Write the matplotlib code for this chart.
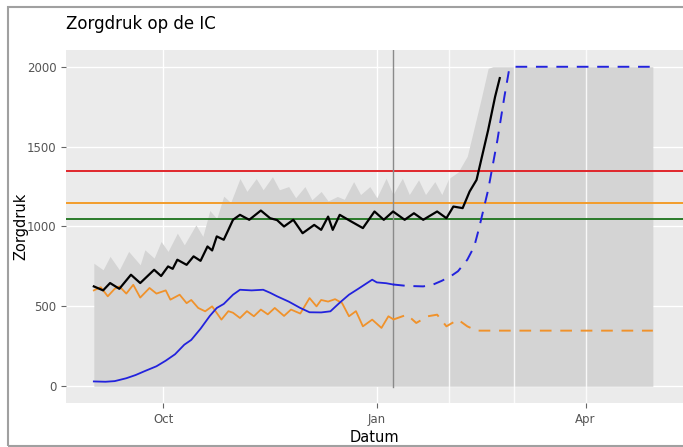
import numpy as np
import matplotlib
matplotlib.use('Agg')
import matplotlib.pyplot as plt
import pandas as pd
from matplotlib.patches import Rectangle

# data (days since 1 Sep 2020)
start = pd.Timestamp('2020-09-01')

# actual (black)
black_days = [0, 4, 7, 11, 16, 20, 26, 29, 32, 34, 36, 40, 43, 46, 49, 51, 53, 56, 58, 60,
              63, 67, 72, 76, 79, 82, 86, 90, 95, 98, 101, 103, 106, 111, 116, 121, 125, 129,
              134, 138, 142, 148, 152, 155, 159, 162, 165, 167, 170, 173, 175]
black_vals = [625, 600, 646, 610, 698, 646, 729, 690, 750, 735, 792, 760, 813, 785, 875, 850, 938, 917, 979, 1042,
              1073, 1042, 1100, 1052, 1040, 1000, 1042, 958, 1010, 979, 1062, 979, 1073, 1031, 990, 1094, 1042, 1094,
              1042, 1083, 1042, 1094, 1052, 1125, 1115, 1219, 1292, 1417, 1604, 1813, 1929]

# blue: observed and forecast
blue_days = [0, 5, 9, 14, 18, 22, 27, 31, 35, 39, 42, 46, 50, 53, 56, 60, 63, 68, 73, 76,
             79, 84, 89, 93, 98, 102, 106, 110, 114, 118, 120, 122, 126, 129]
blue_vals = [30, 28, 32, 50, 70, 95, 125, 160, 200, 260, 290, 360, 440, 490, 515, 573, 604, 600, 604, 585,
             563, 530, 490, 463, 462, 469, 523, 573, 610, 648, 667, 650, 645, 637]
blue_fc_days = [129, 135, 142, 146, 150, 154, 157, 161, 164, 166, 170, 174, 177, 179, 181, 241]
blue_fc_vals = [637, 628, 625, 635, 660, 690, 720, 792, 875, 985, 1229, 1542, 1813, 1979, 2000, 2000]

# orange: observed and forecast
orange_days = [0, 3, 6, 9, 11, 14, 17, 20, 24, 27, 31, 33, 37, 40, 42, 45, 48, 51, 55, 58,
               60, 63, 66, 69, 72, 75, 78, 82, 85, 89, 93, 96, 98, 101, 104, 107, 110, 113, 116, 120,
               124, 127, 129]
orange_vals = [600, 620, 563, 610, 625, 580, 635, 555, 615, 580, 600, 542, 573, 520, 540, 490, 469, 500, 417, 470,
               460, 427, 470, 438, 480, 450, 490, 440, 480, 455, 552, 500, 540, 530, 545, 521, 438, 470, 375, 417,
               365, 438, 420]
orange_fc_days = [129, 135, 139, 144, 148, 152, 157, 161, 165, 241]
orange_fc_vals = [417, 448, 396, 438, 448, 375, 417, 375, 348, 348]

# uncertainty band upper edge (lower edge is 0)
band_days = [0, 4, 7, 11, 15, 20, 22, 26, 29, 32, 36, 39, 44, 47, 50, 53, 56, 59, 63, 66,
             70, 73, 77, 80, 84, 87, 91, 94, 98, 101, 105, 108, 112, 115, 119, 122, 126, 129, 133, 136,
             140, 143, 147, 150, 153, 157, 161, 163, 167, 170, 172, 241]
band_upper = [770, 729, 813, 729, 844, 760, 854, 802, 906, 844, 958, 885, 1010, 938, 1100, 1050, 1190, 1150, 1300, 1220,
              1300, 1230, 1312, 1230, 1250, 1180, 1250, 1167, 1219, 1160, 1188, 1170, 1281, 1200, 1250, 1180, 1302, 1200, 1302, 1200,
              1292, 1200, 1281, 1200, 1300, 1340, 1440, 1560, 1800, 1990, 2000, 2000]

# thresholds
thresholds = [1350, 1150, 1050]
threshold_colors = ['#e0262b', '#f39c2a', '#2a7a2a']

today = 129  # 8 Jan 2021


def to_dates(days):
    return start + pd.to_timedelta(days, unit='D')


fig = plt.figure(figsize=(6.83, 4.47), dpi=100)
ax = fig.add_axes([66 / 683, 44 / 447, 617 / 683, 353 / 447])
ax.set_facecolor('#ebebeb')

# gridlines
for v in [0, 500, 1000, 1500, 2000]:
    ax.axhline(v, color='white', lw=1.0, zorder=0)
for d in ['2020-10-01', '2021-01-01']:
    ax.axvline(pd.Timestamp(d), color='white', lw=1.0, zorder=0)

# band
bd = to_dates(band_days)
ax.fill_between(bd, 0, band_upper, color='#d4d4d4', lw=0, zorder=1)
for d in ['2021-02-01', '2021-03-01', '2021-04-01']:
    ax.axvline(pd.Timestamp(d), color='white', lw=1.0, alpha=0.85, zorder=1.5)

# thresholds
for v, c in zip(thresholds, threshold_colors):
    ax.axhline(v, color=c, lw=1.4, zorder=2)

# today line
ax.axvline(to_dates([today])[0], ymin=100 / 2210, ymax=1, color='#8a8a8a', lw=1.0, zorder=2.5)

# series
ax.plot(to_dates(orange_days), orange_vals, color='#f0922b', lw=1.3, zorder=3)
ax.plot(to_dates(orange_fc_days), orange_fc_vals, color='#f0922b', lw=1.4, ls=(0, (6, 4.5)), zorder=3)
ax.plot(to_dates(blue_days), blue_vals, color='#2222dd', lw=1.3, zorder=3)
ax.plot(to_dates(blue_fc_days), blue_fc_vals, color='#2222dd', lw=1.4, ls=(0, (6, 4.5)), zorder=3)
ax.plot(to_dates(black_days), black_vals, color='black', lw=1.6, zorder=4)

# axes
ax.set_xlim(pd.Timestamp('2020-08-20'), pd.Timestamp('2021-05-13'))
ax.set_ylim(-105, 2105)
ax.set_yticks([0, 500, 1000, 1500, 2000])
ax.set_xticks([pd.Timestamp('2020-10-01'), pd.Timestamp('2021-01-01'), pd.Timestamp('2021-04-01')])
ax.set_xticklabels(['Oct', 'Jan', 'Apr'])
ax.tick_params(colors='#666666', labelsize=8.5, length=3.5, width=0.8, labelcolor='#555555')
for s in ax.spines.values():
    s.set_visible(False)

ax.set_xlabel('Datum', fontsize=10.5)
ax.set_ylabel('Zorgdruk', fontsize=10.5)
ax.xaxis.set_label_coords(0.5, -0.0765)
ax.yaxis.set_label_coords(-0.0616, 0.5)

fig.text(66 / 683, 1 - 24 / 447, 'Zorgdruk op de IC', fontsize=12, va='center', ha='left')

# frame of the screenshot
fig.patches.append(Rectangle((8 / 683, 1.5 / 447), 1.0, 438.5 / 447, transform=fig.transFigure,
                             fill=False, edgecolor='#a0a0a0', lw=1.5))

fig.savefig('out.png', dpi=100)
